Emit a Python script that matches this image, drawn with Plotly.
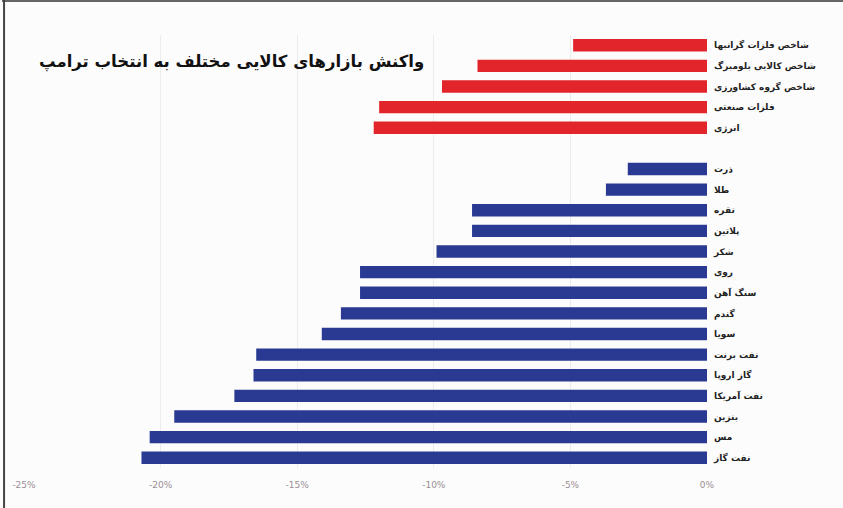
import plotly.graph_objects as go

# Index groups (red) and individual commodities (blue), top to bottom
index_names = ["شاخص فلزات گرانبها", "شاخص کالایی بلومبرگ", "شاخص گروه کشاورزی", "فلزات صنعتی", "انرژی"]
index_changes = [-4.9, -8.4, -9.7, -12.0, -12.2]

commodity_names = ["ذرت", "طلا", "نقره", "پلاتین", "شکر", "روی", "سنگ آهن", "گندم", "سویا",
                   "نفت برنت", "گاز اروپا", "نفت آمریکا", "بنزین", "مس", "نفت گاز"]
commodity_changes = [-2.9, -3.7, -8.6, -8.6, -9.9, -12.7, -12.7, -13.4, -14.1,
                     -16.5, -16.6, -17.3, -19.5, -20.4, -20.7]

x_ticks = [-25, -20, -15, -10, -5, 0]
x_tick_labels = ["-25%", "-20%", "-15%", "-10%", "-5%", "0%"]

title_text = "واکنش بازارهای کالایی مختلف به انتخاب ترامپ"

# Row slots: indices first, one empty slot, then commodities
index_rows = list(range(len(index_names)))
commodity_rows = [len(index_names) + 1 + i for i in range(len(commodity_names))]

fig = go.Figure()
fig.add_trace(go.Bar(
    x=index_changes, y=index_rows, orientation="h",
    marker=dict(color="#e1252b", line=dict(width=0)), width=0.6,
    hoverinfo="x+text", text=index_names, textposition="none",
))
fig.add_trace(go.Bar(
    x=commodity_changes, y=commodity_rows, orientation="h",
    marker=dict(color="#2a3a92", line=dict(width=0)), width=0.6,
    hoverinfo="x+text", text=commodity_names, textposition="none",
))

fig.update_layout(
    width=843, height=508,
    margin=dict(l=22, r=136, t=35, b=40),
    paper_bgcolor="#fcfcfc", plot_bgcolor="#fcfcfc",
    showlegend=False, bargap=0.4,
    font=dict(family="DejaVu Sans", color="#333"),
    xaxis=dict(
        range=[-25, 0], tickvals=x_ticks, ticktext=x_tick_labels,
        showgrid=True, gridcolor="#ececec", gridwidth=1,
        zeroline=False, showline=False,
        tickfont=dict(size=9, color="#9a8f95"), ticks="", ticklabelstandoff=10,
    ),
    yaxis=dict(
        range=[len(index_rows) + len(commodity_rows) + 0.5, -0.5],
        tickvals=index_rows + commodity_rows,
        ticktext=["<b>" + n + "</b>" for n in index_names + commodity_names],
        side="right", showgrid=False, zeroline=False, showline=False,
        tickfont=dict(size=9, color="#222", family="DejaVu Sans"),
        ticks="", ticklabelstandoff=6,
    ),
    annotations=[dict(
        x=-17.4, y=0.8, xref="x", yref="y", text="<b>" + title_text + "</b>",
        showarrow=False, font=dict(size=16.5, color="#111", family="DejaVu Sans"),
        xanchor="center", yanchor="middle",
    )],
    shapes=[
        dict(type="line", xref="paper", yref="paper", x0=-22/685, x1=821/685 + 0.001,
             y0=1 + 34/433, y1=1 + 34/433, line=dict(color="#666", width=2)),
        dict(type="line", xref="paper", yref="paper", x0=-20/685, x1=-20/685,
             y0=-40/433, y1=1 + 35/433, line=dict(color="#444", width=2)),
    ],
)

fig.write_html("out.html")
